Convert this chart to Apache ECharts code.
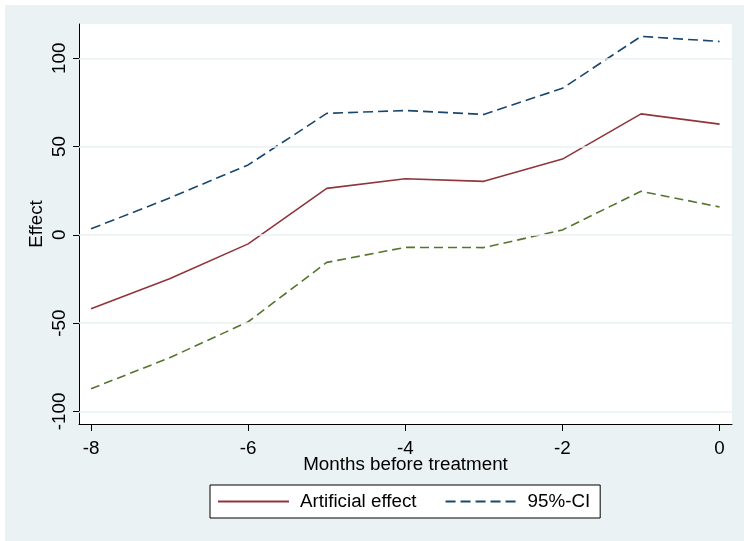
<!DOCTYPE html>
<html>
<head>
<meta charset="utf-8">
<script src="https://cdn.jsdelivr.net/npm/echarts@6/dist/echarts.min.js"></script>
<style>html,body{margin:0;padding:0;background:#fff;}#c{width:744px;height:541px;}</style>
</head>
<body>
<div id="c"></div>
<script>
const months = [-8, -7, -6, -5, -4, -3, -2, -1, 0];
const effect = [-41.9, -24.9, -5.1, 26.3, 31.8, 30.3, 42.9, 68.5, 62.7];
const ciUpper = [3.4, 20.9, 39.6, 68.8, 70.4, 68.2, 83.0, 112.4, 109.5];
const ciLower = [-87.1, -69.6, -49.2, -15.6, -7.1, -7.2, 2.8, 24.7, 15.8];
const xTicks = [-8, -6, -4, -2, 0];
const yTicks = [-100, -50, 0, 50, 100];

const pair = (ys) => months.map((m, i) => [m, ys[i]]);
const font = 'Liberation Sans, Arial, Helvetica, sans-serif';
const fs = 18.8;

const chart = echarts.init(document.getElementById('c'), null, {renderer: 'canvas'});
chart.setOption({
  animation: false,
  backgroundColor: '#ffffff',
  textStyle: {fontFamily: font},
  graphic: [{
    type: 'rect', z: -10, silent: true,
    shape: {x: 5, y: 5, width: 739, height: 536},
    style: {fill: '#EAF2F3'}
  }],
  grid: {
    left: 79, top: 24, right: 12, bottom: 117,
    show: true, backgroundColor: '#ffffff', borderWidth: 0
  },
  xAxis: {
    type: 'value', min: -8.153, max: 0.158,
    name: 'Months before treatment', nameLocation: 'middle', nameGap: 31, nameMoveOverlap: false,
    nameTextStyle: {fontSize: fs, color: '#000', fontFamily: font},
    axisLine: {show: true, onZero: false, lineStyle: {color: '#000', width: 1}},
    axisTick: {show: true, length: 7, customValues: xTicks, lineStyle: {color: '#000'}},
    axisLabel: {customValues: xTicks, fontSize: fs, color: '#000', margin: 15, fontFamily: font},
    splitLine: {show: false}
  },
  yAxis: {
    type: 'value', min: -107.1, max: 119.4,
    name: 'Effect', nameLocation: 'middle', nameGap: 33, nameRotate: 90, nameMoveOverlap: false,
    nameTextStyle: {fontSize: fs, color: '#000', fontFamily: font},
    axisLine: {show: true, onZero: false, lineStyle: {color: '#000', width: 1}},
    axisTick: {show: true, length: 6, customValues: yTicks, lineStyle: {color: '#000'}},
    axisLabel: {customValues: yTicks, fontSize: fs, color: '#000', margin: 10, rotate: 90, fontFamily: font},
    splitLine: {show: false}
  },
  legend: {
    left: 210, top: 485,
    data: ['Artificial effect', '95%-CI'],
    backgroundColor: '#ffffff', borderColor: '#000', borderWidth: 1, borderRadius: 0,
    padding: [7, 10, 7, 7],
    itemGap: 28, itemWidth: 71, itemHeight: 14,
    itemStyle: {opacity: 0},
    textStyle: {fontSize: fs, color: '#000', fontFamily: font, padding: [0, 0, 0, 6]}
  },
  series: [
    {
      name: 'grid', type: 'line', data: [], silent: true,
      markLine: {
        silent: true, symbol: 'none', label: {show: false},
        lineStyle: {color: '#EAF2F3', width: 1.5, type: 'solid'},
        data: yTicks.map(v => ({yAxis: v}))
      }
    },
    {
      name: 'Artificial effect', type: 'line', data: pair(effect),
      symbol: 'none', lineStyle: {color: '#90353B', width: 1.6}, itemStyle: {color: '#90353B'}, z: 3
    },
    {
      name: '95%-CI', type: 'line', data: pair(ciUpper),
      symbol: 'none', lineStyle: {color: '#1A476F', width: 1.6, type: [10, 5]}, itemStyle: {color: '#1A476F'}, z: 3
    },
    {
      name: 'lower', type: 'line', data: pair(ciLower),
      symbol: 'none', lineStyle: {color: '#55752F', width: 1.6, type: [9, 5]}, itemStyle: {color: '#55752F'}, z: 3
    }
  ]
});
</script>
</body>
</html>
